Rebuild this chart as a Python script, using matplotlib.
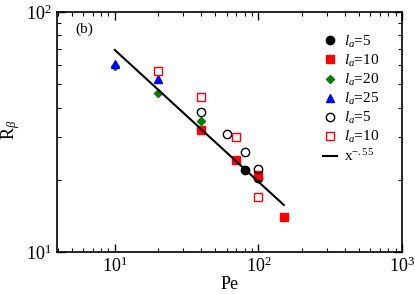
import numpy as np
import matplotlib.pyplot as plt
from matplotlib.ticker import NullFormatter

plt.rcParams['font.family'] = ['Liberation Serif', 'DejaVu Serif']
plt.rcParams['mathtext.fontset'] = 'custom'
plt.rcParams['mathtext.rm'] = 'Liberation Serif'
plt.rcParams['mathtext.it'] = 'Liberation Serif:italic'

# data
pe_circ = [80, 100]
r_circ = [22.0, 20.4]
pe_sq = [40, 70, 100, 150]
r_sq = [32.2, 24.1, 21.0, 14.0]
pe_dia = [10, 20, 40]
r_dia = [59.5, 46.2, 35.2]
pe_tri = [10, 20]
r_tri = [60.7, 52.7]
pe_ocirc = [40, 60, 80, 100]
r_ocirc = [38.2, 31.0, 26.1, 22.1]
pe_osq = [20, 40, 70, 100]
r_osq = [56.6, 44.2, 30.1, 17.0]
# fit line x^-0.55, end points
pe_fit = [10, 150]
r_fit = [69.5, 15.7]

fig = plt.figure(figsize=(4.15, 2.94), dpi=100)
ax = fig.add_axes([0.137, 0.143, 0.832, 0.816])

ax.plot(pe_circ, r_circ, 'o', color='black', ms=6, label=r'$l_a$=5')
ax.plot(pe_sq, r_sq, 's', color='red', ms=5.5, label=r'$l_a$=10')
ax.plot(pe_dia, r_dia, 'D', color='green', ms=4.5, label=r'$l_a$=20')
ax.plot(pe_tri, r_tri, '^', color='blue', ms=6, label=r'$l_a$=25')
ax.plot(pe_ocirc, r_ocirc, 'o', mfc='none', mec='black', mew=1.0, ms=6, label=r'$l_a$=5')
ax.plot(pe_osq, r_osq, 's', mfc='none', mec='red', mew=1.0, ms=5.5, label=r'$l_a$=10')
ax.plot(pe_fit, r_fit, '-', color='black', lw=1.5, label=r'x$^{-.55}$')

ax.set_xscale('log')
ax.set_yscale('log')
ax.set_xlim(3.95, 1000)
ax.set_ylim(10, 100)
ax.xaxis.set_minor_formatter(NullFormatter())
ax.yaxis.set_minor_formatter(NullFormatter())

ax.tick_params(which='both', direction='in', top=True, right=True, labelsize=13)
ax.tick_params(which='major', length=6, width=1)
ax.tick_params(which='minor', length=3, width=0.8)
for s in ax.spines.values():
    s.set_linewidth(1.2)

ax.set_xlabel('Pe', fontsize=13, labelpad=0)
fig.text(11 / 415, 1 - 130 / 294, r'R$_\beta$', fontsize=13, rotation=90,
         ha='center', va='center')
ax.text(0.055, 0.93, '(b)', transform=ax.transAxes, fontsize=11, va='center')

ax.legend(loc='upper left', bbox_to_anchor=(0.74, 0.955), frameon=False, fontsize=11,
          handlelength=0.9, handletextpad=0.5, labelspacing=0.2, borderpad=0.2)

fig.savefig('out.png', dpi=100)
